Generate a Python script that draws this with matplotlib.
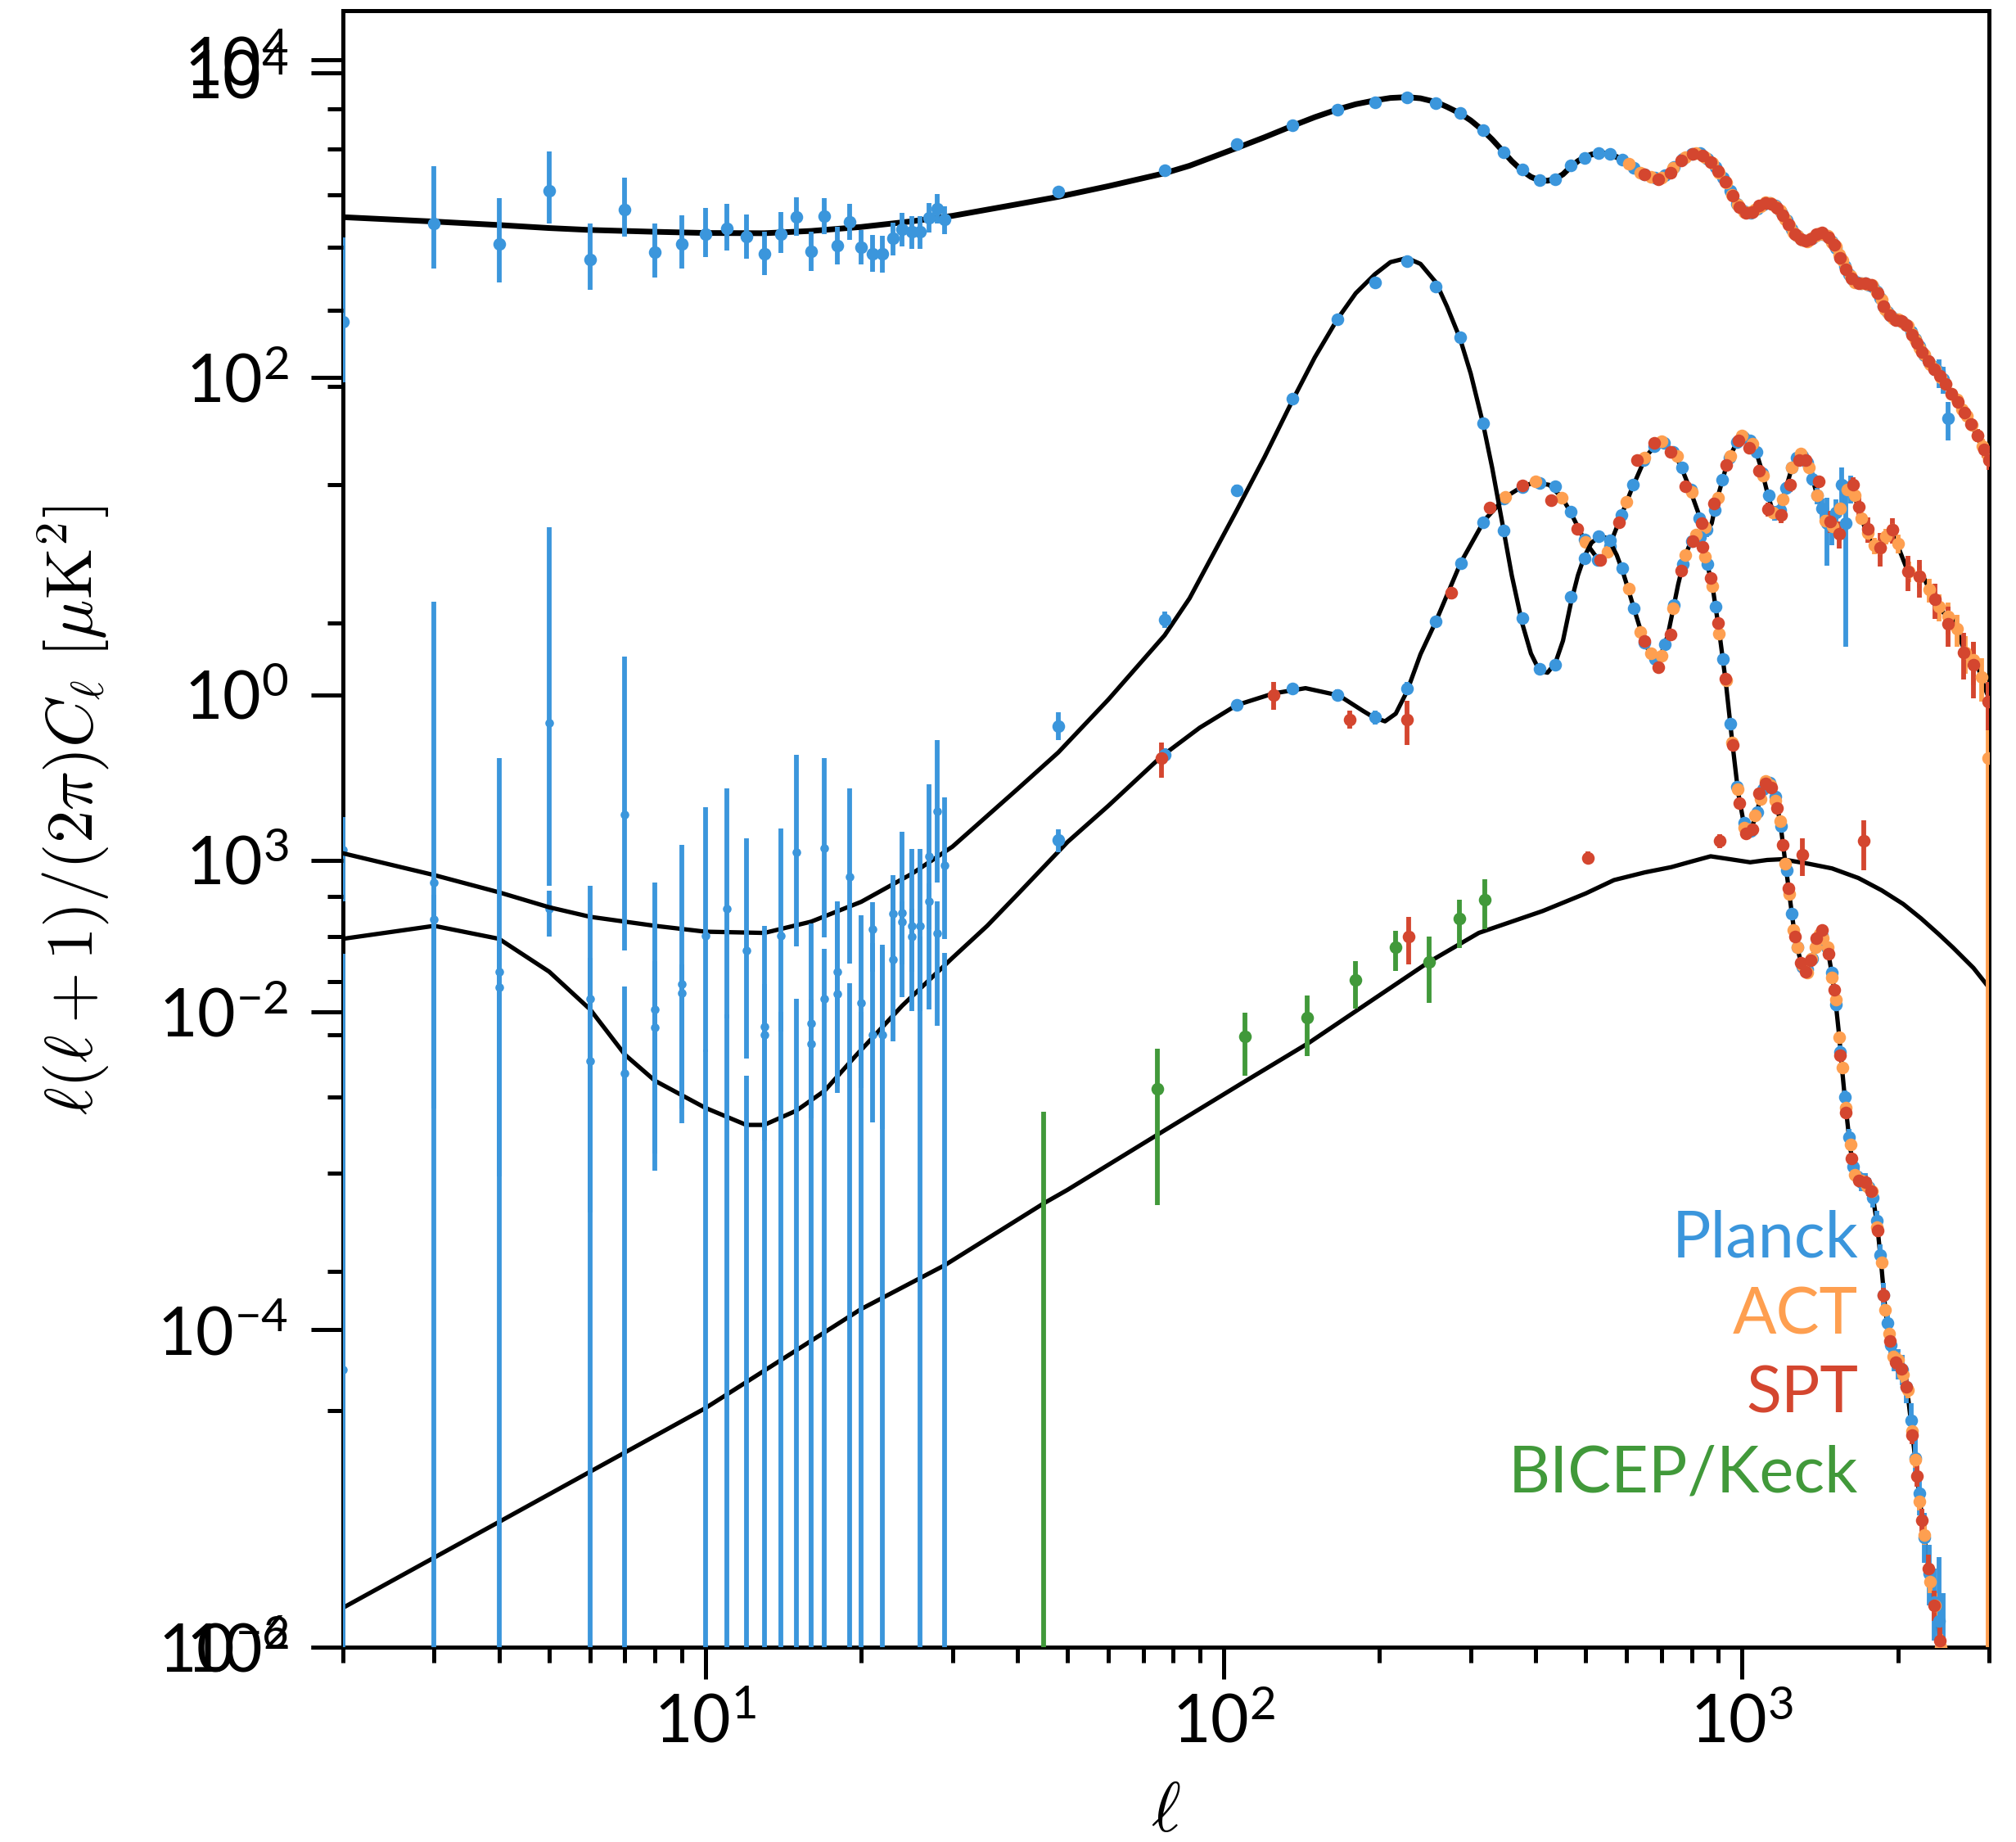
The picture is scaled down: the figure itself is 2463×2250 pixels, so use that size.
import numpy as np
import matplotlib
matplotlib.use("Agg")
import matplotlib.pyplot as plt
from matplotlib.ticker import FixedLocator, NullLocator

plt.rcParams['font.family'] = ['Lato', 'DejaVu Sans']

# ---------------- model curves ----------------
tt_ell = [2, 3, 4, 5, 6, 8, 10, 13, 16, 20, 25, 30, 40, 48, 60, 77, 86, 106, 120, 136,
          150, 166, 180, 196, 210, 226, 240, 257, 270, 286, 300, 317, 330, 347, 360, 377, 392, 407, 422, 437,
          452, 468, 483, 497, 513, 529, 545, 558, 574, 589, 605, 622, 638, 655, 668, 680, 700, 720, 737, 754,
          777, 800, 815, 829, 850, 879, 905, 932, 958, 984, 1010, 1038, 1062, 1087, 1112, 1138, 1163, 1188, 1212, 1237,
          1260, 1282, 1310, 1337, 1365, 1390, 1412, 1435, 1465, 1494, 1518, 1541, 1563, 1585, 1620, 1653, 1700, 1742, 1785, 1825,
          1860, 1891, 1925, 1959, 2000, 2050, 2090, 2128, 2165, 2204, 2250, 2309, 2360, 2419, 2475, 2535, 2600, 2656, 2720, 2784,
          2850, 2917, 3000]
tt_val = [1020, 957, 910, 871, 847, 825, 811, 808, 835, 885, 960, 1040, 1230, 1370, 1600, 1930, 2150, 2780, 3250, 3840,
          4350, 4870, 5250, 5550, 5750, 5820, 5720, 5420, 5050, 4600, 4150, 3580, 3150, 2630, 2300, 2000, 1830, 1740, 1730, 1780,
          1900, 2120, 2300, 2430, 2530, 2570, 2570, 2530, 2440, 2330, 2200, 2070, 1960, 1870, 1820, 1800, 1830, 1930, 2080, 2240,
          2430, 2550, 2580, 2570, 2440, 2220, 1950, 1680, 1420, 1220, 1110, 1090, 1130, 1200, 1250, 1250, 1200, 1110, 1000, 900,
          820, 770, 730, 725, 745, 780, 800, 800, 770, 715, 660, 600, 540, 490, 430, 400, 390, 388, 378, 345,
          305, 270, 248, 236, 230, 225, 210, 190, 172, 155, 138, 122, 112, 101, 90, 80, 72, 64, 57, 50,
          43, 36, 30]

ee_ell = [2, 3, 4, 5, 6, 7, 8, 10, 12, 13, 15, 17, 19.5, 24, 30, 35, 40, 50, 60, 76,
          90, 106, 125, 144, 167, 186, 195, 205, 215, 226, 240, 257, 287, 319, 351, 380, 400, 425, 450, 467,
          499, 527, 545, 556, 579, 612, 654, 691, 710, 739, 765, 790, 834, 860, 875, 892, 941, 975, 1008, 1035,
          1063, 1093, 1123, 1150, 1169, 1200, 1251, 1310, 1340, 1380, 1413, 1450, 1492, 1550, 1619, 1670, 1730, 1790, 1852, 1900,
          1955, 2020, 2091, 2160, 2237, 2310, 2393, 2470, 2560, 2630, 2702, 2780, 2853, 2930, 3000]
ee_val = [0.029, 0.035, 0.029, 0.018, 0.0104, 0.0054, 0.0037, 0.0025, 0.00195, 0.00195, 0.0024, 0.0032, 0.0053, 0.011, 0.022, 0.035, 0.055, 0.118, 0.20, 0.41,
          0.62, 0.86, 1.02, 1.10, 0.99, 0.79, 0.72, 0.68, 0.76, 1.05, 1.8, 2.9, 6.8, 12.6, 17.7, 20.8, 21.7, 21, 17.5, 14.2,
          9.2, 7.2, 7.6, 8.7, 12.2, 19.4, 31.9, 38.9, 38, 34, 27, 20.7, 12.6, 11.0, 12, 16.1, 30, 38, 42.2, 41,
          35, 26, 18.2, 14, 13.2, 17, 27.3, 33, 29, 21, 16.1, 12.5, 11.1, 15, 20.7, 16, 11.1, 8.8, 8.4, 10,
          11.1, 8, 6.0, 5.7, 5.6, 4.5, 3.6, 3.2, 3.0, 2.3, 1.84, 1.7, 1.52, 1.15, 0.95]

bb_ell = [2, 4, 10, 20, 29, 45, 50, 75, 109, 146, 182, 249, 311, 413, 500, 567, 650, 731, 800, 871,
          950, 1038, 1120, 1196, 1350, 1494, 1680, 1862, 2050, 2218, 2400, 2558, 2800, 3000]
bb_val = [1.77e-6, 6.15e-6, 3.2e-5, 1.35e-4, 2.55e-4, 6.25e-4, 7.6e-4, 1.71e-3, 3.6e-3, 6.4e-3, 0.0104, 0.0207, 0.0316, 0.0434, 0.056, 0.068, 0.076, 0.082, 0.089, 0.096,
          0.092, 0.088, 0.091, 0.092, 0.086, 0.0805, 0.070, 0.0586, 0.048, 0.039, 0.031, 0.0255, 0.019, 0.0143]

# ---------------- data ----------------
# Planck TT low ell (value, lower, upper)
pl_ttlow_ell = [2, 3, 4, 5, 6, 7, 8, 9, 10, 11, 12, 13, 14, 15, 16, 17, 18, 19, 20, 21, 22, 23, 24, 25, 26, 27, 28, 29]
pl_ttlow_val = [225, 936, 690, 1493, 555, 1143, 613, 695, 802, 867, 767, 600, 802, 1024, 620, 1035, 676, 953, 658, 600, 600, 747, 857, 825, 825, 1011, 1153, 984]
pl_ttlow_lo = [93, 483, 396, 927, 357, 767, 424, 483, 571, 629, 559, 440, 605, 776, 470, 798, 516, 738, 513, 464, 455, 589, 670, 643, 643, 817, 936, 793]
pl_ttlow_hi = [760, 2128, 1349, 2650, 927, 1815, 936, 1045, 1167, 1234, 1066, 825, 1097, 1361, 831, 1349, 885, 1234, 851, 785, 775, 946, 1087, 1033, 1033, 1247, 1422, 1200]

# Planck low-ell polarization
pl_pollow_ell = [2, 3, 4, 5, 6, 7, 8, 9, 10, 11, 12, 13, 14, 15, 16, 17, 18, 19, 20, 21, 22, 23, 24, 25, 26, 27, 28, 29]
pl_pollow_val = [0.105, 0.0385, 0.018, 0.045, 0.0122, 0.0041, 0.0104, 0.0132, -0.01, -0.01, -0.002, 0.0081, -0.003, -0.004,
                 0.0063, 0.0122, 0.018, -0.005, -0.004, 0.0333, -0.006, 0.0416, 0.037, 0.030, -0.005, 0.050, 0.0315, -0.004]
pl_pollow_lo = [0.050, -0.1, -0.05, 0.030, -0.05, -0.03, 0.0010, 0.0020, -0.05, -0.05, -0.03, -0.03, -0.03, -0.03,
                -0.03, -0.03, 0.0031, -0.03, -0.03, 0.018, -0.03, 0.020, 0.020, 0.018, -0.03, 0.0104, 0.0082, -0.03]
pl_pollow_hi = [0.17, 0.055, 0.028, 0.058, 0.022, 0.0145, 0.021, 0.020, 0.0058, 0.0097, 0.004, 0.015, 0.01, 0.0122,
                0.012, 0.025, 0.050, 0.0153, 0.01, 0.0493, 0.0266, 0.0726, 0.05, 0.045, 0.03, 0.065, 0.05, 0.0236]

# Planck TT binned
pl_tt_ell = [48, 77, 106, 136, 166, 196, 226, 257, 286, 317, 347, 377, 407, 437, 468, 497, 529, 558, 589, 619,
             649, 680, 710, 740, 770, 800, 830, 860, 890, 920, 950, 980, 1010, 1040, 1070, 1100, 1130, 1160, 1190, 1220,
             1250, 1280, 1310, 1340, 1370, 1400, 1430, 1460, 1490, 1520, 1550, 1580, 1610, 1640, 1670, 1700, 1730, 1760, 1790, 1820,
             1850, 1880, 1910, 1940, 1970, 2000, 2040, 2080, 2120, 2160, 2200, 2250, 2300, 2350, 2400, 2450, 2500]
pl_tt_val = [1480, 2020, 2950, 3860, 4870, 5420, 5770, 5350, 4610, 3590, 2625, 2030, 1750, 1770, 2160, 2420, 2580, 2550, 2350, 2090,
             1890, 1800, 1880, 2110, 2380, 2540, 2570, 2380, 2100, 1800, 1490, 1240, 1115, 1090, 1150, 1230, 1255, 1205, 1105, 970,
             855, 775, 732, 727, 750, 790, 802, 775, 720, 655, 570, 500, 445, 408, 396, 390, 390, 384, 372, 348,
             315, 280, 258, 242, 234, 229, 225, 214, 194, 174, 157, 138, 124, 114, 108, 98, 55]
pl_tt_err = [60, 50, 50, 55, 60, 60, 60, 55, 45, 40, 35, 30, 25, 25, 25, 25, 25, 25, 25, 22,
             20, 20, 20, 22, 25, 25, 25, 25, 22, 20, 18, 15, 14, 14, 15, 15, 15, 15, 14, 13,
             12, 12, 11, 11, 12, 12, 12, 12, 12, 12, 11, 10, 10, 10, 10, 10, 10, 10, 10, 10,
             10, 10, 10, 10, 10, 10, 10, 10, 10, 10, 10, 10, 11, 12, 22, 19, 15]

# ACT TT
act_tt_ell = [605, 638, 668, 700, 737, 777, 815, 850, 879, 905, 932, 958, 984, 1010, 1038, 1062, 1087, 1112, 1138, 1163,
              1188, 1212, 1237, 1260, 1282, 1310, 1337, 1365, 1390, 1412, 1435, 1465, 1494, 1518, 1541, 1563, 1585, 1620, 1653, 1700,
              1742, 1785, 1825, 1860, 1891, 1925, 1959, 2000, 2050, 2090, 2128, 2165, 2204, 2250, 2309, 2360, 2419, 2475, 2535, 2600,
              2656, 2720, 2784, 2850, 2917, 2990]
act_tt_val = [2210, 1950, 1830, 1820, 2090, 2440, 2590, 2430, 2230, 1940, 1690, 1410, 1230, 1100, 1095, 1140, 1195, 1260, 1245, 1190,
              1120, 990, 905, 815, 775, 735, 720, 750, 775, 805, 795, 775, 710, 665, 595, 545, 485, 435, 398, 392,
              385, 380, 342, 308, 268, 250, 234, 232, 222, 212, 188, 173, 153, 139, 121, 113, 100, 91, 79, 72,
              63, 57, 50, 43, 37, 32]
act_tt_err = [30, 25, 22, 22, 25, 28, 28, 26, 24, 22, 20, 17, 15, 13, 13, 13, 14, 14, 14, 13,
              12, 11, 10, 9, 9, 8, 8, 8, 9, 9, 9, 9, 8, 8, 7, 7, 6, 6, 6, 6,
              6, 6, 5, 5, 5, 5, 5, 5, 5, 5, 4, 4, 4, 4, 4, 4, 4, 4, 4, 4,
              4, 4, 4, 4, 4, 4]

# SPT TT
spt_tt_ell = [650, 690, 728, 765, 803, 840, 870, 900, 930, 960, 990, 1020, 1050, 1080, 1110, 1140, 1170, 1200, 1230, 1265,
              1300, 1330, 1360, 1395, 1430, 1470, 1510, 1550, 1590, 1630, 1680, 1730, 1780, 1830, 1880, 1930, 1980, 2030, 2080, 2130,
              2180, 2230, 2290, 2350, 2410, 2470, 2540, 2610, 2690, 2770, 2850, 2930, 3000]
spt_tt_val = [1900, 1760, 1935, 2330, 2540, 2500, 2280, 2000, 1700, 1400, 1180, 1080, 1095, 1215, 1250, 1235, 1165, 1045, 920, 800,
              740, 722, 745, 795, 815, 760, 685, 565, 478, 418, 392, 390, 380, 338, 280, 245, 230, 226, 214, 186,
              165, 145, 126, 113, 102, 91, 79, 70, 60, 51, 43, 35, 30]
spt_tt_err = [30, 28, 28, 30, 30, 30, 28, 25, 22, 18, 15, 14, 14, 15, 15, 15, 14, 13, 12, 11,
              10, 10, 10, 10, 10, 10, 9, 8, 8, 7, 7, 7, 7, 6, 6, 6, 5, 5, 5, 5,
              5, 5, 5, 5, 5, 5, 5, 5, 5, 4, 4, 4, 4]

# Planck EE binned
pl_ee_ell = [48, 77, 106, 136, 166, 196, 226, 257, 287, 317, 347, 377, 407, 437, 467, 497, 527, 557, 587, 617,
             647, 677, 707, 737, 767, 797, 827, 857, 887, 917, 947, 977, 1007, 1037, 1067, 1097, 1127, 1157, 1187, 1217,
             1247, 1277, 1307, 1337, 1367, 1397, 1427, 1459, 1490, 1520, 1560, 1588, 1620]
pl_ee_val = [0.122, 0.42, 0.86, 1.10, 1.00, 0.72, 1.10, 2.9, 6.7, 12.2, 17.2, 20.3, 21.6, 20.5, 14.2, 9.5, 7.1, 8.6, 13.5, 21,
             30, 37, 38.5, 34, 27, 19.5, 13, 11, 14.5, 22.5, 31, 39, 42, 40, 34, 25, 18, 14, 14.5, 20,
             27, 31, 32, 29, 23, 18, 15, 12, 11.5, 14, 21, 12, 20]
pl_ee_err = [0.02, 0.04, 0.06, 0.08, 0.08, 0.07, 0.1, 0.2, 0.4, 0.6, 0.8, 0.9, 1.0, 1.0, 0.8, 0.7, 0.6, 0.7, 0.8, 1.0,
             1.2, 1.4, 1.5, 1.5, 1.4, 1.2, 1.1, 1.1, 1.2, 1.4, 1.6, 1.8, 1.9, 2.0, 2.0, 1.8, 1.6, 1.5, 1.6, 1.8,
             2.0, 2.2, 2.4, 2.4, 2.3, 2.2, 2.2, 5.5, 2.8, 3.0, 6.0, 10.0, 4.0]

# ACT EE
act_ee_ell = [350, 400, 450, 500, 550, 600, 650, 700, 750, 800, 850, 900, 950, 1000, 1050, 1100, 1150, 1200, 1250, 1300,
              1350, 1400, 1450, 1500, 1550, 1600, 1650, 1700, 1750, 1800, 1850, 1900, 1950, 2000, 2100, 2200, 2300, 2400, 2500, 2600,
              2700, 2800, 2900, 2990]
act_ee_val = [17.6, 22.0, 17.5, 9.2, 8.0, 16.5, 31, 39.5, 32, 19, 11.3, 17.5, 32, 43, 38, 24, 14, 17, 27, 33,
              27, 18, 12.5, 11.5, 15, 19.5, 18, 13, 10.5, 8.7, 8.4, 10, 11, 9, 6.0, 5.6, 4.6, 3.6, 3.1, 2.6,
              1.85, 1.65, 1.3, 0.40]
act_ee_err = [0.6, 0.6, 0.6, 0.5, 0.5, 0.7, 1.0, 1.2, 1.1, 0.9, 0.8, 0.9, 1.2, 1.4, 1.4, 1.2, 1.0, 1.1, 1.3, 1.5,
              1.4, 1.2, 1.0, 1.0, 1.1, 1.2, 1.2, 1.1, 1.0, 1.0, 1.0, 1.1, 1.2, 1.2, 0.9, 0.9, 0.8, 0.7, 0.7, 0.6,
              0.5, 0.5, 0.4, 0.8]

# SPT EE
spt_ee_ell = [76, 125, 175, 226, 275, 326, 377, 428, 481, 533, 579, 627, 677, 728, 779, 836, 885, 935, 985, 1035,
              1080, 1123, 1193, 1240, 1290, 1330, 1410, 1480, 1540, 1641, 1683, 1750, 1850, 1955, 2091, 2200, 2362, 2500, 2680, 2800,
              2990]
spt_ee_val = [0.40, 1.0, 0.70, 0.70, 4.4, 15.1, 20.9, 16.9, 11.1, 7.1, 12.2, 30, 38.6, 34, 20.5, 12.0, 16, 28, 40, 36,
              25.9, 14.8, 13.6, 21, 30, 30, 22, 12.4, 10.3, 21, 15.3, 11.1, 8.4, 11, 6.0, 5.6, 4.0, 2.8, 1.85, 1.55,
              0.9]
spt_ee_err = [0.1, 0.2, 0.09, 0.22, 0.4, 1.0, 1.0, 1.0, 0.8, 0.6, 0.8, 1.5, 2.0, 2.0, 1.5, 1.2, 1.5, 2.0, 2.0, 2.0,
              2.0, 1.5, 1.5, 2.0, 2.0, 2.0, 2.0, 2.0, 2.0, 2.5, 2.5, 2.0, 2.0, 2.0, 1.5, 1.5, 1.0, 0.8, 0.6, 0.6,
              0.3]

# BICEP/Keck BB
bk_ell = [45, 74.5, 110, 145, 180, 215, 249, 285, 319]
bk_val = [-0.0005, 0.0033, 0.00705, 0.0092, 0.016, 0.0258, 0.0207, 0.039, 0.0514]
bk_lo = [-0.0035, 0.00061, 0.0040, 0.0053, 0.0105, 0.0183, 0.0114, 0.0255, 0.0333]
bk_hi = [0.00235, 0.0059, 0.0099, 0.0128, 0.0209, 0.0327, 0.030, 0.0514, 0.0687]

# SPT BB
spt_bb_ell = [228, 505, 908, 1310, 1720]
spt_bb_val = [0.030, 0.094, 0.12, 0.098, 0.12]
spt_bb_lo = [0.020, 0.086, 0.108, 0.072, 0.078]
spt_bb_hi = [0.040, 0.103, 0.133, 0.125, 0.161]

legend_labels = ['Planck', 'ACT', 'SPT', 'BICEP/Keck']

# ---------------- styling ----------------
C_PL = '#3b96dc'
C_ACT = '#fe9f50'
C_SPT = '#d4462f'
C_BK = '#41993a'
legend_colors = [C_PL, C_ACT, C_SPT, C_BK]

W, H, DPI = 2463, 2250, 200
fig = plt.figure(figsize=(W / DPI, H / DPI), dpi=DPI)
rect = [419 / W, 1 - 2012 / H, (2430 - 419) / W, (2012 - 13) / H]
ax = fig.add_axes(rect)
ax2 = fig.add_axes(rect, sharex=ax)
ax2.patch.set_visible(False)

ax.set_xscale('log')
ax.set_yscale('log')
ax2.set_yscale('log')

MS = 5.6
MS_SMALL = 3.8
ELW = 2.1


def pts_asym(a, ell, val, lo, hi, color, ms=MS, z=3):
    a.vlines(ell, lo, hi, colors=color, lw=ELW, zorder=z)
    a.plot(ell, val, 'o', ls='none', ms=ms, color=color, mew=0, zorder=z + 0.5)


def pts_sym(a, ell, val, err, color, ms=MS, z=3):
    v = np.asarray(val, float)
    e = np.asarray(err, float)
    pts_asym(a, ell, v, v - e, v + e, color, ms, z)


# main axis: TT, EE, BB
ax.plot(tt_ell, tt_val, color='k', lw=2.5, zorder=2)
ax.plot(ee_ell, ee_val, color='k', lw=1.9, zorder=2)
ax.plot(bb_ell, bb_val, color='k', lw=1.9, zorder=2)

pts_asym(ax, pl_ttlow_ell, pl_ttlow_val, pl_ttlow_lo, pl_ttlow_hi, C_PL)
pts_asym(ax, pl_pollow_ell, pl_pollow_val, pl_pollow_lo, pl_pollow_hi, C_PL, ms=MS_SMALL)
pts_sym(ax, pl_tt_ell, pl_tt_val, pl_tt_err, C_PL)
pts_sym(ax, pl_ee_ell, pl_ee_val, pl_ee_err, C_PL)
pts_sym(ax, act_tt_ell, act_tt_val, act_tt_err, C_ACT)
pts_sym(ax, act_ee_ell, act_ee_val, act_ee_err, C_ACT)
pts_sym(ax, spt_tt_ell, spt_tt_val, spt_tt_err, C_SPT)
pts_sym(ax, spt_ee_ell, spt_ee_val, spt_ee_err, C_SPT)
pts_asym(ax, spt_bb_ell, spt_bb_val, spt_bb_lo, spt_bb_hi, C_SPT)
pts_asym(ax, bk_ell, bk_val, bk_lo, bk_hi, C_BK)

# overlaid second axis: TT again
ax2.plot(tt_ell, tt_val, color='k', lw=1.9, zorder=2)
pts_asym(ax2, pl_ttlow_ell, pl_ttlow_val, pl_ttlow_lo, pl_ttlow_hi, C_PL, ms=MS_SMALL)
pts_sym(ax2, pl_tt_ell, pl_tt_val, pl_tt_err, C_PL)
pts_sym(ax2, act_tt_ell, act_tt_val, act_tt_err, C_ACT)
pts_sym(ax2, spt_tt_ell, spt_tt_val, spt_tt_err, C_SPT)

ax.set_xlim(2, 3000)
ax.set_ylim(1e-6, 2.04e4)
ax2.set_ylim(100, 1.2e4)

ax.yaxis.set_major_locator(FixedLocator([1e-6, 1e-4, 1e-2, 1, 1e2, 1e4]))
ax.yaxis.set_minor_locator(NullLocator())

for a in (ax, ax2):
    a.tick_params(axis='both', which='major', direction='out', length=14, width=1.8, labelsize=29)
    a.tick_params(axis='both', which='minor', direction='out', length=7, width=1.8)
    a.tick_params(axis='y', which='both', pad=10, left=True, right=False)
ax.tick_params(axis='x', which='both', pad=6, top=False)
ax2.tick_params(axis='x', which='both', bottom=False, labelbottom=False, top=False, labeltop=False)

for s in ax.spines.values():
    s.set_linewidth(1.8)
for s in ax2.spines.values():
    s.set_visible(False)

fig.text(90 / W, 1 - 990 / H, r'$\ell(\ell+1)/(2\pi)C_\ell\ [\mu\mathrm{K}^2]$',
         rotation=90, ha='center', va='center', fontsize=29, math_fontfamily='cm')
fig.text(1424 / W, 1 - 2213 / H, r'$\ell$', ha='center', va='center', fontsize=31,
         math_fontfamily='cm')

leg_y = [0.2386, 0.1911, 0.1431, 0.0950]
for lab, col, yy in zip(legend_labels, legend_colors, leg_y):
    ax.text(0.9205, yy, lab, color=col, fontsize=28.5, ha='right', va='baseline',
            transform=ax.transAxes, zorder=10)

fig.savefig('out.png', dpi=DPI)
